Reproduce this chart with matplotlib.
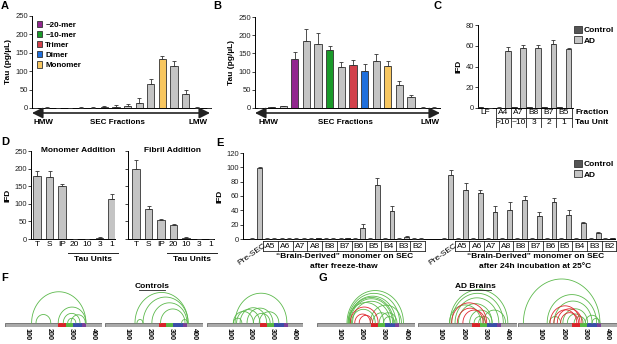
import numpy as np
import matplotlib.pyplot as plt
from matplotlib.patches import Patch, Rectangle, FancyArrowPatch
from matplotlib.transforms import blended_transform_factory

plt.rcParams['font.family'] = ['Liberation Sans', 'DejaVu Sans']
plt.rcParams['font.size'] = 5
plt.rcParams['axes.linewidth'] = 0.7

# ---------------- data ----------------
# A: SEC of recombinant tau (pg/uL)
a_vals = [0, 1, 0, 0.5, 1, 1, 2, 3, 5, 13, 65, 132, 113, 38, 1, 0]
a_err = [0.5, 1, 0.5, 0.5, 1, 1, 4, 6, 5, 14, 14, 10, 15, 10, 0.5, 1]
a_colored = {11: 'Monomer'}

# B: SEC of AD brain tau (pg/uL)
b_vals = [0, 2, 4.5, 135, 183, 175, 159, 114, 118, 103, 129, 116, 62, 29, 1, 1]
b_err = [0.5, 1, 2, 20, 35, 31, 11, 13, 14, 18, 19, 13, 11, 6, 1, 3]
b_colored = {3: '~20-mer', 6: '~10-mer', 8: 'Trimer', 9: 'Dimer', 11: 'Monomer'}

species = ['~20-mer', '~10-mer', 'Trimer', 'Dimer', 'Monomer']
species_colors = ['#92278f', '#1a9a2a', '#d2404a', '#1f6fdc', '#f8c760']

# C: seeding (IFD) of SEC fractions
c_fractions = ['LF', 'A4', 'A7', 'B8', 'B7', 'B5']
c_units = ['', '>10', '~10', '3', '2', '1']
c_ctrl = [0.5, 0.3, 0.5, 0.5, 0.5, 0.5]
c_ctrl_err = [0.3, 0.3, 0.3, 0.3, 0.3, 0.3]
c_ad = [0, 55.4, 58, 57.6, 62, 56.6]
c_ad_err = [0, 3.5, 3, 3.5, 3.5, 1]

# D: monomer vs fibril addition
d_labels = ['T', 'S', 'IP', '20', '10', '3', '1']
d_mono = [179.5, 175, 151, 0, 0.5, 3, 113]
d_mono_err = [14, 19, 4, 0.5, 0.5, 4, 14]
d_fib = [198, 85, 54.5, 40, 2, 0, 0]
d_fib_err = [26, 9, 3, 2, 4, 0.5, 0.5]

# E: "brain-derived" monomer re-run on SEC
e_fractions = ['A5', 'A6', 'A7', 'A8', 'B8', 'B7', 'B6', 'B5', 'B4', 'B3', 'B2']
e1_ctrl = [0.5] * 12
e1_ad = [99, 0.5, 0.5, 0.5, 0.8, 0.5, 1, 15.3, 75.8, 38.6, 3, 0.5]
e1_ad_err = [2, 0.3, 0.3, 0.3, 0.5, 0.3, 1, 5, 9, 8, 1, 0.3]
e2_ctrl = [0.5] * 12
e2_ad = [89.8, 68.8, 64, 37.7, 41, 55, 32.6, 51, 34, 23, 8.4, 1]
e2_ad_err = [7, 9, 5, 9, 10, 5, 5, 6, 6, 1, 1, 0.5]

# F/G: crosslink maps on 2N4R tau (residue pairs)
tau_len = 441
repeats = [(242, 276, '#d8232a'), (276, 308, '#58b947'), (308, 352, '#3b4fa8'), (352, 370, '#7b3f98')]
f_links = [
    [(121, 368), (141, 208), (242, 368), (265, 341), (285, 322), (300, 365)],
    [(135, 374), (171, 374), (211, 369), (144, 171), (250, 360), (345, 372)],
    [(129, 367), (121, 213), (136, 243), (152, 274), (184, 303), (213, 290), (121, 160), (240, 330)],
]
g_green = [
    [(135, 389), (140, 372), (145, 355), (150, 340), (160, 330), (140, 300), (250, 330),
     (240, 380), (280, 360), (300, 350), (155, 262), (145, 345)],
    [(142, 400), (150, 380), (165, 360), (180, 330), (230, 330), (250, 300), (270, 320),
     (140, 280), (290, 390)],
    [(24, 365), (130, 350), (160, 330), (200, 310), (220, 290), (140, 190), (300, 360),
     (330, 365), (250, 300)],
]
g_red = [
    [(150, 275), (170, 240), (190, 250)],
    [(150, 306), (200, 300), (175, 290)],
    [(143, 276), (160, 262), (175, 285), (190, 270)],
]

# ---------------- figure helpers ----------------
W, H = 617, 344
fig = plt.figure(figsize=(W / 100, H / 100), dpi=100)
GRAY = '#c4c4c4'
DARK = '#555555'
EDGE = '#333333'


def pax(x0, y0, x1, y1):
    """axes from pixel box (top-left origin)"""
    return fig.add_axes([x0 / W, 1 - y1 / H, (x1 - x0) / W, (y1 - y0) / H])


def ftext(x, y, s, **kw):
    kw.setdefault('ha', 'center')
    kw.setdefault('va', 'center')
    return fig.text(x / W, 1 - y / H, s, **kw)


def style(ax, ylim, step, labels=True):
    ax.set_ylim(*ylim)
    ax.set_yticks(np.arange(ylim[0], ylim[1] + 1, step))
    if not labels:
        ax.set_yticklabels([])
    for s in ['top', 'right']:
        ax.spines[s].set_visible(False)
    ax.tick_params(axis='y', length=2, width=0.6, pad=1, labelsize=5.5, colors='#222')
    ax.tick_params(axis='x', length=0, pad=1.5, labelsize=6)


def bars(ax, x, vals, err, colors, width):
    ax.bar(x, vals, width, color=colors, edgecolor=EDGE, linewidth=0.6, zorder=2)
    ax.errorbar(x, vals, yerr=[np.zeros(len(err)), err], fmt='none', ecolor=EDGE,
                elinewidth=0.6, capsize=1.3, capthick=0.6, zorder=3)


def fig_y(ax):
    """transform: x in data, y in figure fraction"""
    return blended_transform_factory(ax.transData, fig.transFigure)


def sec_arrow(x0, x1, y):
    fig.patches.append(FancyArrowPatch(
        (x0 / W, 1 - y / H), (x1 / W, 1 - y / H), transform=fig.transFigure,
        arrowstyle='<|-|>,head_length=3.2,head_width=1.6', lw=1.2, color='#222',
        shrinkA=0, shrinkB=0, mutation_scale=2))


def ctrl_ad_legend(y):
    fig.legend([Patch(facecolor=DARK, edgecolor=EDGE, linewidth=0.6),
                Patch(facecolor=GRAY, edgecolor=EDGE, linewidth=0.6)], ['Control', 'AD'],
               loc='upper left', bbox_to_anchor=(574 / W, 1 - y / H), frameon=False,
               handlelength=0.9, handleheight=0.9, handletextpad=0.3, labelspacing=0.25,
               borderpad=0, borderaxespad=0, prop={'size': 6, 'weight': 'bold'})


# ---------------- A ----------------
colmap = dict(zip(species, species_colors))
axA = pax(32, 16, 211, 108)
xa = np.arange(len(a_vals))
bars(axA, xa, a_vals, a_err, [colmap.get(a_colored.get(i), GRAY) for i in xa], 0.62)
style(axA, (0, 250), 50)
axA.set_xlim(-0.26, 15.2)
axA.set_xticks([])
axA.set_ylabel('Tau (pg/µL)', fontsize=6, fontweight='bold', labelpad=2)
axA.legend([Patch(facecolor=c, edgecolor=EDGE, linewidth=0.6) for c in species_colors], species,
           loc='upper left', bbox_to_anchor=(0.0, 1.0), frameon=False, handlelength=0.7,
           handleheight=0.8, handletextpad=0.35, labelspacing=0.28, borderaxespad=0.2,
           prop={'size': 5.8, 'weight': 'bold'})
sec_arrow(32, 210, 113)
ftext(43, 122, 'HMW', fontsize=5.8, fontweight='bold')
ftext(117, 122, 'SEC Fractions', fontsize=5.8, fontweight='bold')
ftext(198, 122, 'LMW', fontsize=5.8, fontweight='bold')

# ---------------- B ----------------
axB = pax(255, 17, 440, 108)
xb = np.arange(len(b_vals))
bars(axB, xb, b_vals, b_err, [colmap.get(b_colored.get(i), GRAY) for i in xb], 0.62)
style(axB, (0, 250), 50)
axB.set_xlim(-0.43, 15.5)
axB.set_xticks([])
axB.set_ylabel('Tau (pg/µL)', fontsize=6, fontweight='bold', labelpad=2)
sec_arrow(255, 440, 113)
ftext(268, 122, 'HMW', fontsize=5.8, fontweight='bold')
ftext(345, 122, 'SEC Fractions', fontsize=5.8, fontweight='bold')
ftext(430, 122, 'LMW', fontsize=5.8, fontweight='bold')

# ---------------- C ----------------
axC = pax(478, 25, 573, 108)
xc = np.r_[0, np.arange(1, len(c_fractions)) + 0.2]
bars(axC, xc - 0.3, c_ctrl, c_ctrl_err, DARK, 0.37)
bars(axC, xc + 0.3, c_ad, c_ad_err, GRAY, 0.37)
style(axC, (0, 80), 20)
axC.set_xlim(-0.46, 5.79)
axC.set_xticks([])
axC.set_ylabel('IFD', fontsize=6, fontweight='bold', labelpad=2)
tc = fig_y(axC)
for i, (fr, un) in enumerate(zip(c_fractions, c_units)):
    axC.text(xc[i], 1 - 113 / H, fr, transform=tc, ha='center', va='center', fontsize=6)
    axC.text(xc[i], 1 - 122.5 / H, un, transform=tc, ha='center', va='center', fontsize=6)
edges = np.r_[xc[1:] - 0.5, xc[-1] + 0.5]
for e in edges:
    axC.plot([e, e], [1 - 108 / H, 1 - 127 / H], transform=tc, color='#222', lw=0.6, clip_on=False)
axC.plot([edges[0], edges[-1]], [1 - 117.5 / H] * 2, transform=tc, color='#222', lw=0.6, clip_on=False)
ftext(575, 113, 'Fraction', fontsize=6, fontweight='bold', ha='left')
ftext(575, 122.5, 'Tau Unit', fontsize=6, fontweight='bold', ha='left')
ctrl_ad_legend(26)

# ---------------- D ----------------
axD1 = pax(31, 151, 115, 239)
axD2 = pax(128, 151, 214, 239)
xd = np.arange(len(d_labels))
for ax, vals, err, lim, title, tx in [(axD1, d_mono, d_mono_err, (-0.48, 6.24), 'Monomer Addition', 78),
                                      (axD2, d_fib, d_fib_err, (-0.64, 6.24), 'Fibril Addition', 173)]:
    bars(ax, xd, vals, err, GRAY, 0.58)
    style(ax, (0, 250), 50, labels=(ax is axD1))
    ax.set_xlim(*lim)
    ax.set_xticks(xd)
    ax.set_xticklabels(d_labels)
    ftext(tx, 151, title, fontsize=6, fontweight='bold')
    t = fig_y(ax)
    ax.plot([2.5, 6.5], [1 - 253 / H] * 2, transform=t, color='#222', lw=0.7, clip_on=False)
    ax.text(4.5, 1 - 259.5 / H, 'Tau Units', transform=t, ha='center', va='center',
            fontsize=6, fontweight='bold')
axD1.set_ylabel('IFD', fontsize=6, fontweight='bold', labelpad=2)

# ---------------- E ----------------
axE = pax(243, 153, 615, 239)
xe1 = np.arange(len(e1_ad))
xe2 = xe1 + len(e1_ad) + 1
bars(axE, xe1 - 0.25, e1_ctrl, [0.3] * 12, DARK, 0.33)
bars(axE, xe1 + 0.25, e1_ad, e1_ad_err, GRAY, 0.33)
bars(axE, xe2 - 0.25, e2_ctrl, [0.3] * 12, DARK, 0.33)
bars(axE, xe2 + 0.25, e2_ad, e2_ad_err, GRAY, 0.33)
style(axE, (0, 120), 20)
axE.set_xlim(-0.88, 24.4)
axE.set_xticks([])
axE.set_ylabel('IFD', fontsize=6, fontweight='bold', labelpad=2)
te = fig_y(axE)
subtitles = [('“Brain-Derived” monomer on SEC', 'after freeze-thaw'),
             ('“Brain-Derived” monomer on SEC', 'after 24h incubation at 25°C')]
for xg, (l1, l2) in zip([xe1, xe2], subtitles):
    fx = xg[1:]
    for p, name in zip(fx, e_fractions):
        axE.text(p, 1 - 246 / H, name, transform=te, ha='center', va='center', fontsize=6)
    for e in np.r_[fx - 0.5, fx[-1] + 0.5]:
        axE.plot([e, e], [1 - 241 / H, 1 - 251 / H], transform=te, color='#222', lw=0.6, clip_on=False)
    for yy in (241, 251):
        axE.plot([fx[0] - 0.5, fx[-1] + 0.5], [1 - yy / H] * 2, transform=te, color='#222',
                 lw=0.6, clip_on=False)
    axE.text(xg[0] + 0.5, 1 - 242 / H, 'Pre-SEC', transform=te, ha='right', va='top',
             rotation=35, rotation_mode='anchor', fontsize=6)
    axE.text(fx.mean(), 1 - 257 / H, l1, transform=te, ha='center', va='center',
             fontsize=6, fontweight='bold')
    axE.text(fx.mean(), 1 - 266 / H, l2, transform=te, ha='center', va='center',
             fontsize=6, fontweight='bold')
ctrl_ad_legend(160)


# ---------------- F / G ----------------
def tau_map(x0, x1, links):
    """protein bar with crosslink arcs; links = [(pairs, color), ...]"""
    scale = tau_len / (x1 - x0)          # residues per pixel
    top, bottom = 266, 327
    ax = pax(x0, top, x1, bottom)
    ax.set_xlim(0, tau_len)
    ax.set_ylim(0, (bottom - top) * scale)
    ax.axis('off')
    y0, bh = 0.5 * scale, 3.5 * scale
    ax.add_patch(Rectangle((0, y0), tau_len, bh, facecolor='#a9a9a9', edgecolor='#555', lw=0.5))
    for s, e, c in repeats:
        ax.add_patch(Rectangle((s, y0), e - s, bh, facecolor=c, edgecolor='none'))
    t = np.linspace(0, np.pi, 60)
    for pairs, color in links:
        for s, e in pairs:
            r = (e - s) / 2
            ax.plot((s + e) / 2 + r * np.cos(t), y0 + bh + 1.15 * r * np.sin(t),
                    color=color, lw=0.6, clip_on=False)
    for v in (100, 200, 300, 400):
        ax.text(v, -1.0 * scale, str(v), ha='center', va='top', rotation=-90,
                fontsize=5.2, fontweight='bold', clip_on=False)
    return ax


GREEN, RED = '#5cb94c', '#e0262e'
for (x0, x1), pairs in zip([(5, 102), (105, 203), (207, 303)], f_links):
    tau_map(x0, x1, [(pairs, GREEN)])
for (x0, x1), gp, rp in zip([(317, 415), (418, 517), (518, 617)], g_green, g_red):
    tau_map(x0, x1, [(gp, GREEN), (rp, RED)])

ftext(152, 286, 'Controls', fontsize=6, fontweight='bold')
fig.add_artist(plt.Line2D([139 / W, 165 / W], [1 - 290 / H] * 2, color='#222', lw=0.6))
ftext(475, 286, 'AD Brains', fontsize=6, fontweight='bold')
fig.add_artist(plt.Line2D([459 / W, 491 / W], [1 - 290 / H] * 2, color='#222', lw=0.6))

# panel letters
for letter, (x, y) in {'A': (5, 6), 'B': (217, 6), 'C': (438, 6), 'D': (5, 142),
                       'E': (220, 143), 'F': (5, 278), 'G': (323, 278)}.items():
    ftext(x, y, letter, fontsize=8, fontweight='bold')

fig.savefig('out.png', dpi=100)
